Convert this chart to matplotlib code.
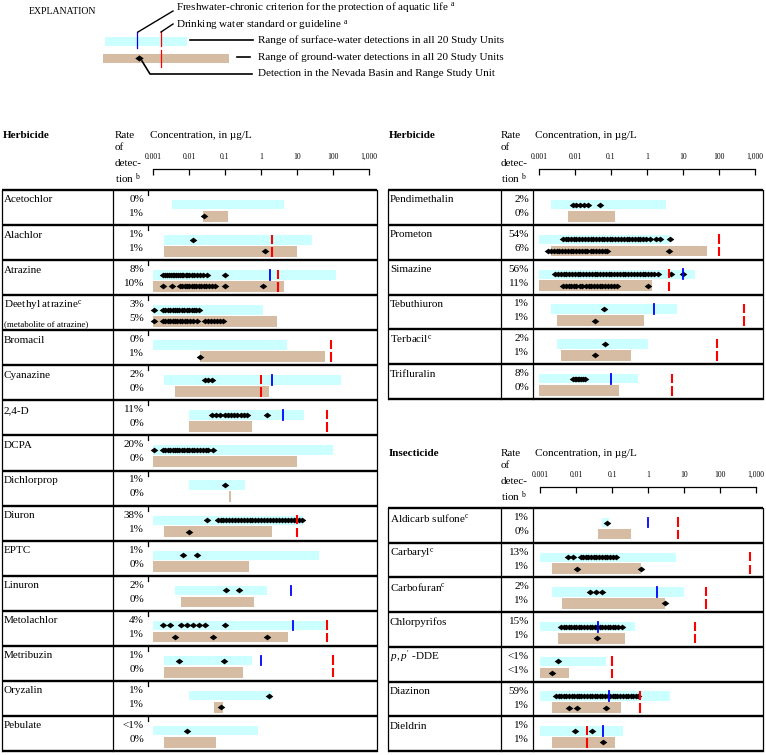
import numpy as np
import matplotlib.pyplot as plt

plt.rcParams['font.family'] = ['Liberation Serif', 'DejaVu Serif']
plt.rcParams['mathtext.fontset'] = 'custom'
plt.rcParams['mathtext.rm'] = 'Liberation Serif'
plt.rcParams['mathtext.it'] = 'Liberation Serif:italic'
plt.rcParams['font.size'] = 8

SW_COLOR = '#ccffff'
GW_COLOR = '#d5bca3'
RED = '#ff0000'
BLUE = '#0000ff'
DIAMOND = [(-1, 0), (0, 0.75), (1, 0), (0, -0.75)]

tick_values = [0.001, 0.01, 0.1, 1, 10, 100, 1000]
tick_labels = ['0.001', '0.01', '0.1', '1', '10', '100', '1,000']

# ---------------- Herbicides, left table ----------------
left_names = ['Acetochlor', 'Alachlor', 'Atrazine', r'Deethyl atrazine$^{\rm c}$', 'Bromacil',
              'Cyanazine', '2,4-D', 'DCPA', 'Dichlorprop', 'Diuron', 'EPTC', 'Linuron',
              'Metolachlor', 'Metribuzin', 'Oryzalin', 'Pebulate']
left_rate_sw = ['0%', '1%', '8%', '3%', '0%', '2%', '11%', '20%', '1%', '38%', '1%', '2%',
                '4%', '1%', '1%', '<1%']
left_rate_gw = ['1%', '1%', '10%', '5%', '1%', '0%', '0%', '0%', '0%', '1%', '0%', '0%',
                '1%', '0%', '1%', '0%']
left_sw_range = [(0.0034, 4.3), (0.002, 26), (0.001, 120), (0.001, 1.15), (0.001, 5.3),
                 (0.002, 165), (0.01, 15.6), (0.001, 100), (0.01, 0.36), (0.001, 14.7),
                 (0.001, 40), (0.004, 1.5), (0.001, 65), (0.002, 0.56), (0.01, 2),
                 (0.001, 0.83)]
left_gw_range = [(0.0245, 0.12), (0.002, 10), (0.001, 4.3), (0.001, 2.8), (0.02, 60),
                 (0.004, 1.7), (0.01, 0.56), (0.001, 10), (0.133, 0.146), (0.002, 2),
                 (0.001, 0.46), (0.006, 0.64), (0.001, 5.6), (0.002, 0.32), (0.05, 0.088),
                 (0.002, 0.056)]
left_aquatic = [None, None, 1.8, None, None, 2, 4, None, None, None, None, 7, 7.8, 1,
                None, None]
left_drinking = [None, 2, 3, None, 90, 1, 70, None, None, 10, None, None, 70, 100,
                 None, None]
left_sw_hits = [
    [],
    [0.013],
    [0.0019, 0.0022, 0.0025, 0.0028, 0.0031, 0.0035, 0.0039, 0.0044, 0.005, 0.0056, 0.0063,
     0.007, 0.008, 0.009, 0.01, 0.012, 0.014, 0.017, 0.02, 0.025, 0.032, 0.1],
    [0.0011, 0.0019, 0.0022, 0.0026, 0.003, 0.0035, 0.004, 0.0046, 0.0054, 0.0063, 0.0074,
     0.0086, 0.01, 0.012, 0.014, 0.016, 0.019],
    [],
    [0.028, 0.034, 0.043],
    [0.043, 0.055, 0.072, 0.1, 0.12, 0.15, 0.18, 0.22, 0.27, 0.33, 0.41, 1.5],
    [0.0011, 0.0019, 0.0022, 0.0026, 0.003, 0.0035, 0.004, 0.0046, 0.0054, 0.0063, 0.0074,
     0.0086, 0.01, 0.012, 0.014, 0.017, 0.02, 0.024, 0.029, 0.034, 0.047],
    [0.1],
    [0.031, 0.064, 0.075, 0.09, 0.11, 0.13, 0.16, 0.19, 0.23, 0.28, 0.33, 0.4, 0.48, 0.58,
     0.7, 0.85, 1.0, 1.2, 1.5, 1.8, 2.2, 2.6, 3.2, 3.8, 4.6, 5.5, 6.6, 8, 9.6, 11.5, 13.8],
    [0.007, 0.017],
    [0.11, 0.25],
    [0.0019, 0.003, 0.006, 0.0086, 0.013, 0.019, 0.028, 0.1],
    [0.0053, 0.094],
    [1.7],
    [0.009],
]
left_gw_hits = [
    [0.026],
    [1.3],
    [0.0019, 0.0034, 0.0056, 0.0065, 0.0075, 0.0087, 0.01, 0.012, 0.014, 0.016, 0.019,
     0.022, 0.026, 0.03, 0.036, 0.043, 0.052, 0.1, 1.15],
    [0.0011, 0.0019, 0.0022, 0.0026, 0.003, 0.0035, 0.004, 0.0047, 0.0055, 0.0065, 0.0077,
     0.009, 0.011, 0.013, 0.0167, 0.028, 0.033, 0.04, 0.05, 0.06, 0.072, 0.088],
    [0.02],
    [], [], [], [],
    [0.01],
    [], [],
    [0.0041, 0.046, 1.5],
    [],
    [0.077],
    [],
]

# ---------------- Herbicides, right table ----------------
right_names = ['Pendimethalin', 'Prometon', 'Simazine', 'Tebuthiuron', r'Terbacil$^{\rm c}$',
               'Trifluralin']
right_rate_sw = ['2%', '54%', '56%', '1%', '2%', '8%']
right_rate_gw = ['0%', '6%', '11%', '1%', '1%', '0%']
right_sw_range = [(0.0021, 3.3), (0.001, 4.4), (0.001, 21), (0.0021, 6.8), (0.0032, 1.05),
                  (0.001, 0.56)]
right_gw_range = [(0.0064, 0.13), (0.0021, 45), (0.001, 1.4), (0.0032, 0.83),
                  (0.0041, 0.36), (0.001, 0.17)]
right_aquatic = [None, None, 10, 1.6, None, 0.1]
right_drinking = [None, 100, 4, 500, 90, 5]
right_sw_hits = [
    [0.0086, 0.011, 0.014, 0.018, 0.023, 0.05],
    [0.0046, 0.0055, 0.0065, 0.0078, 0.0093, 0.011, 0.013, 0.016, 0.019, 0.023, 0.027,
     0.032, 0.038, 0.046, 0.055, 0.065, 0.078, 0.093, 0.11, 0.13, 0.16, 0.19, 0.23, 0.27,
     0.32, 0.38, 0.46, 0.55, 0.65, 0.78, 0.95, 1.2, 1.8, 2.3, 4.3],
    [0.0028, 0.0034, 0.004, 0.0048, 0.0058, 0.007, 0.0084, 0.01, 0.012, 0.014, 0.017, 0.02,
     0.024, 0.029, 0.035, 0.042, 0.05, 0.06, 0.072, 0.086, 0.1, 0.12, 0.15, 0.18, 0.21,
     0.25, 0.3, 0.36, 0.43, 0.52, 0.62, 0.75, 0.9, 1.1, 1.3, 1.6, 2.0, 4.6, 10],
    [0.063],
    [0.07],
    [0.0088, 0.0097, 0.011, 0.012, 0.013, 0.015, 0.017, 0.019],
]
right_gw_hits = [
    [],
    [0.0018, 0.0022, 0.0026, 0.0031, 0.0037, 0.0044, 0.0053, 0.0063, 0.0075, 0.009, 0.011,
     0.013, 0.016, 0.019, 0.022, 0.027, 0.032, 0.038, 0.046, 0.055, 0.066, 0.076, 4.0],
    [0.0046, 0.0055, 0.0066, 0.0079, 0.0095, 0.011, 0.014, 0.016, 0.02, 0.024, 0.028,
     0.034, 0.04, 0.048, 0.058, 0.07, 0.084, 0.1, 0.12, 0.147, 1.05],
    [0.036],
    [0.036],
    [],
]

# ---------------- Insecticides ----------------
ins_names = [r'Aldicarb sulfone$^{\rm c}$', r'Carbaryl$^{\rm c}$', r'Carbofuran$^{\rm c}$',
             'Chlorpyrifos', r"$p, p'$ -DDE", 'Diazinon', 'Dieldrin']
ins_rate_sw = ['1%', '13%', '2%', '15%', '<1%', '59%', '1%']
ins_rate_gw = ['0%', '1%', '1%', '1%', '<1%', '1%', '1%']
ins_sw_range = [(0.053, 0.08), (0.001, 6), (0.0021, 10), (0.001, 0.44), (0.001, 0.068),
                (0.001, 4), (0.001, 0.2)]
ins_gw_range = [(0.041, 0.34), (0.0021, 0.64), (0.0041, 3), (0.0032, 0.23),
                (0.001, 0.0064), (0.0021, 0.18), (0.0021, 0.12)]
ins_aquatic = [1, None, 1.8, 0.041, None, 0.08, 0.056]
ins_drinking = [7, 700, 40, 20, 0.1, 0.6, 0.02]
ins_sw_hits = [
    [0.072],
    [0.0059, 0.0081, 0.014, 0.016, 0.019, 0.022, 0.026, 0.031, 0.037, 0.044, 0.052, 0.062,
     0.074, 0.088, 0.105, 0.13],
    [0.024, 0.036, 0.053],
    [0.0038, 0.0045, 0.0053, 0.0062, 0.0073, 0.0086, 0.01, 0.012, 0.014, 0.017, 0.02,
     0.024, 0.028, 0.033, 0.039, 0.046, 0.054, 0.064, 0.076, 0.09, 0.106, 0.125, 0.15,
     0.186],
    [0.0032],
    [0.0028, 0.0033, 0.0039, 0.0046, 0.0054, 0.0064, 0.0075, 0.0088, 0.0104, 0.012, 0.014,
     0.017, 0.02, 0.024, 0.028, 0.033, 0.039, 0.046, 0.054, 0.064, 0.075, 0.088, 0.104,
     0.12, 0.14, 0.17, 0.2, 0.24, 0.28, 0.33, 0.39, 0.46, 0.53],
    [0.0094, 0.028],
]
ins_gw_hits = [
    [],
    [0.011, 0.64],
    [2.9],
    [0.038],
    [0.0021],
    [0.0064, 0.011, 0.068],
    [0.056],
]

W, H = 766, 755
fig = plt.figure(figsize=(W / 100, H / 100), dpi=100)
base = fig.add_axes([0, 0, 1, 1])
base.set_xlim(0, W)
base.set_ylim(H, 0)
base.axis('off')


def px_axes(x0, y0, x1, y1):
    ax = fig.add_axes([x0 / W, 1 - y1 / H, (x1 - x0) / W, (y1 - y0) / H])
    ax.patch.set_alpha(0)
    return ax


def draw_header(title, x_left, x_rate, x_plot, x_001, y_top):
    base.text(x_left + 1, y_top, title, fontweight='bold', va='center', ha='left')
    base.text(x_rate, y_top, 'Rate', va='center')
    base.text(x_rate, y_top + 13, 'of', va='center')
    base.text(x_rate, y_top + 28, 'detec-', va='center')
    base.text(x_rate, y_top + 44, r'tion $^{\rm b}$', va='center')
    base.text(x_plot + 2, y_top, r'Concentration, in µg/L', va='center')
    # concentration scale
    sc = fig.add_axes([x_001 / W, 1 - (y_top + 34) / H, 216 / W, 0.0001])
    sc.set_xscale('log')
    sc.set_xlim(1e-3, 1e3)
    sc.set_yticks([])
    for s in ('left', 'right', 'top'):
        sc.spines[s].set_visible(False)
    sc.spines['bottom'].set_linewidth(0.9)
    sc.set_xticks(tick_values, tick_labels)
    sc.minorticks_off()
    sc.tick_params(axis='x', bottom=True, top=False, labelbottom=False, labeltop=True,
                   direction='out', length=4, width=0.9, pad=2, labelsize=5.5)


def draw_table(names, rate_sw, rate_gw, sw_range, gw_range, sw_hits, gw_hits, aquatic,
               drinking, x_left, x_name, x_plot, x_right, y_top, y_bot, x_001, full_div):
    n = len(names)
    rh = (y_bot - y_top) / n
    for k in range(n + 1):
        y = y_top + k * rh
        base.plot([x_left, x_right], [y, y], color='k', lw=1.7, solid_capstyle='butt')
    for x in (x_left, x_name, x_right):
        base.plot([x, x], [y_top, y_bot], color='k', lw=0.9)
    for k in range(n):
        y = y_top + k * rh
        y_end = y + rh if full_div else y + 5
        base.plot([x_plot, x_plot], [y, y_end], color='k', lw=0.9)
        base.text(x_left + 2, y + 10, names[k], va='center', ha='left')
        base.text(x_plot - 4, y + 9.5, rate_sw[k], va='center', ha='right')
        base.text(x_plot - 4, y + 23.5, rate_gw[k], va='center', ha='right')

    ax = px_axes(x_plot, y_top, x_right, y_bot)
    ax.set_xscale('log')
    ax.set_xlim(10 ** (-3 + (x_plot - x_001) / 36), 10 ** (-3 + (x_right - x_001) / 36))
    ax.set_ylim(n, 0)
    ax.axis('off')

    rows = np.arange(n)
    sw_lo = np.array([r[0] for r in sw_range])
    sw_hi = np.array([r[1] for r in sw_range])
    gw_lo = np.array([r[0] for r in gw_range])
    gw_hi = np.array([r[1] for r in gw_range])
    ax.barh(rows + 0.42, sw_hi - sw_lo, left=sw_lo, height=0.27, color=SW_COLOR, lw=0)
    ax.barh(rows + 0.75, gw_hi - gw_lo, left=gw_lo, height=0.31, color=GW_COLOR, lw=0)
    for i in rows:
        if sw_hits[i]:
            ax.plot(sw_hits[i], [i + 0.42] * len(sw_hits[i]), ls='none', marker=DIAMOND,
                    ms=5.5, color='k', mew=0, zorder=3)
        if gw_hits[i]:
            ax.plot(gw_hits[i], [i + 0.75] * len(gw_hits[i]), ls='none', marker=DIAMOND,
                    ms=5.5, color='k', mew=0, zorder=3)
        if aquatic[i] is not None:
            ax.plot([aquatic[i]] * 2, [i + 0.28, i + 0.56], color=BLUE, lw=1.3, zorder=4)
        if drinking[i] is not None:
            ax.plot([drinking[i]] * 2, [i + 0.27, i + 0.54], color=RED, lw=1.5, zorder=4,
                    solid_capstyle='butt')
            ax.plot([drinking[i]] * 2, [i + 0.63, i + 0.90], color=RED, lw=1.5, zorder=4,
                    solid_capstyle='butt')
    return rh


# ---------------- explanation ----------------
base.text(29, 11, 'EXPLANATION', va='center', fontsize=7)
base.add_patch(plt.Rectangle((105, 37), 82, 9, color=SW_COLOR, lw=0))
base.add_patch(plt.Rectangle((103, 54), 126, 9, color=GW_COLOR, lw=0))
base.plot([137, 137], [32, 48], color=BLUE, lw=0.9)
base.plot([161, 161], [32, 46], color=RED, lw=0.9)
base.plot([161, 161], [50, 67], color=RED, lw=0.9)
base.plot([139], [58], ls='none', marker=DIAMOND, ms=6, color='k', mew=0)
base.plot([138, 173], [32, 11], color='k', lw=1.0)
base.plot([161, 173], [32, 24], color='k', lw=1.0)
base.plot([190, 253], [40, 40], color='k', lw=1.2)
base.plot([237, 250], [57, 57], color='k', lw=1.2)
base.plot([142, 150, 252], [61, 74, 74], color='k', lw=1.2)
base.text(176, 7, r'Freshwater-chronic criterion for the protection of aquatic life $^{\rm a}$',
          va='center')
base.text(176, 25, r'Drinking water standard or guideline $^{\rm a}$', va='center')
base.text(258, 40, 'Range of surface-water detections in all 20 Study Units', va='center')
base.text(258, 57, 'Range of ground-water detections in all 20 Study Units', va='center')
base.text(258, 74, 'Detection in the Nevada Basin and Range Study Unit', va='center')

# ---------------- tables ----------------
draw_header('Herbicide', 2, 115, 148, 153, 135)
rh = draw_table(left_names, left_rate_sw, left_rate_gw, left_sw_range, left_gw_range,
                left_sw_hits, left_gw_hits, left_aquatic, left_drinking,
                2, 113, 148, 377, 190, 751, 153, False)
base.text(4, 190 + 3 * rh + 29, '(metabolite of atrazine)', va='center', fontsize=6.5)

draw_header('Herbicide', 388, 501, 533, 539, 135)
draw_table(right_names, right_rate_sw, right_rate_gw, right_sw_range, right_gw_range,
           right_sw_hits, right_gw_hits, right_aquatic, right_drinking,
           388, 501, 533, 763, 190, 399, 539, True)

draw_header('Insecticide', 388, 501, 533, 540, 453)
draw_table(ins_names, ins_rate_sw, ins_rate_gw, ins_sw_range, ins_gw_range,
           ins_sw_hits, ins_gw_hits, ins_aquatic, ins_drinking,
           388, 501, 533, 763, 508, 751, 540, True)

fig.savefig('out.png', dpi=100)
